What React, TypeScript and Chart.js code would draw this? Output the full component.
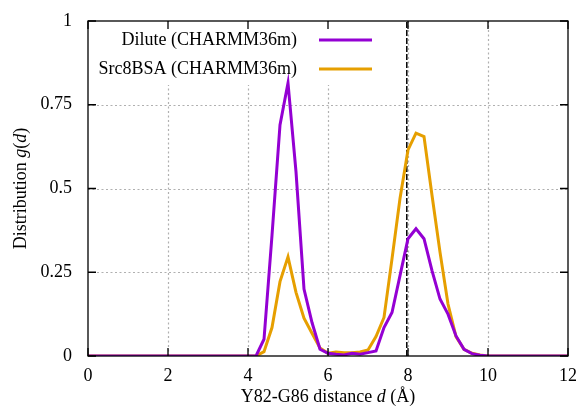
import React, { useEffect, useRef } from "react";
import { Chart, registerables } from "chart.js";

Chart.register(...registerables);

// distance d (Å)
const distances = [0, 4.2, 4.4, 4.6, 4.8, 5.0, 5.2, 5.4, 5.6, 5.8, 6.0, 6.2, 6.4, 6.6, 6.8, 7.0, 7.2, 7.4, 7.6, 7.8, 8.0, 8.2, 8.4, 8.6, 8.8, 9.0, 9.2, 9.4, 9.6, 9.8, 10.0, 12];
const dilute = [0, 0, 0.05, 0.36, 0.69, 0.815, 0.55, 0.2, 0.1, 0.02, 0.008, 0.005, 0.003, 0.008, 0.005, 0.01, 0.015, 0.085, 0.13, 0.24, 0.35, 0.38, 0.35, 0.255, 0.17, 0.125, 0.06, 0.02, 0.007, 0.002, 0, 0];
const src8bsa = [0, 0, 0.013, 0.085, 0.222, 0.296, 0.19, 0.113, 0.068, 0.024, 0.008, 0.012, 0.01, 0.01, 0.012, 0.018, 0.058, 0.115, 0.29, 0.47, 0.615, 0.665, 0.655, 0.48, 0.31, 0.155, 0.058, 0.02, 0.008, 0.003, 0, 0];

const seriesLabels = ["Dilute (CHARMM36m)", "Src8BSA (CHARMM36m)"];
const seriesColors = ["#9400D3", "#E69F00"];
const xTicks = [0, 2, 4, 6, 8, 10, 12];
const yTicks = [0, 0.25, 0.5, 0.75, 1];
const referenceLine = 7.97;

const FONT = "'Liberation Serif', 'Times New Roman', serif";

const decorPlugin = {
  id: "decor",
  beforeDatasetsDraw(chart: any) {
    const { ctx, chartArea: a, scales } = chart;
    const xs = scales.x, ys = scales.y;
    ctx.save();
    ctx.strokeStyle = "#b0b0b0";
    ctx.lineWidth = 1.2;
    ctx.setLineDash([2, 2.5]);
    for (const t of xTicks) {
      if (t === xTicks[0] || t === xTicks[xTicks.length - 1]) continue;
      const px = Math.round(xs.getPixelForValue(t)) + 0.5;
      ctx.beginPath();
      ctx.moveTo(px, a.bottom);
      ctx.lineTo(px, a.top);
      ctx.stroke();
    }
    for (const t of yTicks) {
      if (t === yTicks[0] || t === yTicks[yTicks.length - 1]) continue;
      const py = Math.round(ys.getPixelForValue(t)) + 0.5;
      ctx.beginPath();
      ctx.moveTo(a.left, py);
      ctx.lineTo(a.right, py);
      ctx.stroke();
    }
    // legend box area (opaque)
    ctx.setLineDash([]);
    ctx.fillStyle = "#ffffff";
    ctx.fillRect(a.left + 1, a.top + 1, 294, 63);
    // reference dashed line
    ctx.strokeStyle = "#000000";
    ctx.lineWidth = 1.5;
    ctx.setLineDash([6, 2]);
    const rx = xs.getPixelForValue(referenceLine);
    ctx.beginPath();
    ctx.moveTo(rx, a.bottom);
    ctx.lineTo(rx, a.top);
    ctx.stroke();
    ctx.restore();
  },
  afterDraw(chart: any) {
    const { ctx, chartArea: a, scales } = chart;
    const xs = scales.x, ys = scales.y;
    ctx.save();
    ctx.setLineDash([]);
    ctx.strokeStyle = "#000000";
    ctx.lineWidth = 1.3;
    ctx.strokeRect(a.left, a.top, a.right - a.left, a.bottom - a.top);
    const tl = 8;
    ctx.beginPath();
    for (const t of xTicks) {
      const px = xs.getPixelForValue(t);
      ctx.moveTo(px, a.bottom);
      ctx.lineTo(px, a.bottom - tl);
      ctx.moveTo(px, a.top);
      ctx.lineTo(px, a.top + tl);
    }
    for (const t of yTicks) {
      const py = ys.getPixelForValue(t);
      ctx.moveTo(a.left, py);
      ctx.lineTo(a.left + tl, py);
      ctx.moveTo(a.right, py);
      ctx.lineTo(a.right - tl, py);
    }
    ctx.stroke();

    // legend
    ctx.font = `18px ${FONT}`;
    ctx.textAlign = "right";
    ctx.textBaseline = "middle";
    const rowsY = [a.top + 19, a.top + 48];
    seriesLabels.forEach((lab, i) => {
      ctx.fillStyle = "#000000";
      ctx.fillText(lab, a.left + 209, rowsY[i]);
      ctx.strokeStyle = seriesColors[i];
      ctx.lineWidth = 3;
      ctx.beginPath();
      ctx.moveTo(a.left + 231, rowsY[i]);
      ctx.lineTo(a.left + 284, rowsY[i]);
      ctx.stroke();
    });

    const drawMixed = (list: [string, boolean][], cx: number, cy: number, rotate: boolean) => {
      ctx.save();
      ctx.translate(cx, cy);
      if (rotate) ctx.rotate(-Math.PI / 2);
      let total = 0;
      const widths = list.map(([s, it]) => {
        ctx.font = `${it ? "italic " : ""}18px ${FONT}`;
        const w = ctx.measureText(s).width;
        total += w;
        return w;
      });
      let x = -total / 2;
      ctx.textAlign = "left";
      ctx.textBaseline = "middle";
      ctx.fillStyle = "#000000";
      list.forEach(([s, it], i) => {
        ctx.font = `${it ? "italic " : ""}18px ${FONT}`;
        ctx.fillText(s, x, 0);
        x += widths[i];
      });
      ctx.restore();
    };
    drawMixed([["Y82-G86 distance ", false], ["d", true], [" (Å)", false]], (a.left + a.right) / 2, 397, false);
    drawMixed([["Distribution ", false], ["g", true], ["(", false], ["d", true], [")", false]], 21, (a.top + a.bottom) / 2, true);
    ctx.restore();
  },
};

export default function App() {
  const ref = useRef<HTMLCanvasElement | null>(null);
  useEffect(() => {
    if (!ref.current) return;
    const chart = new Chart(ref.current, {
      type: "line",
      data: {
        datasets: [
          {
            label: seriesLabels[0],
            data: distances.map((d, i) => ({ x: d, y: dilute[i] })),
            borderColor: seriesColors[0],
            borderWidth: 3,
            pointRadius: 0,
            tension: 0,
            fill: false,
          },
          {
            label: seriesLabels[1],
            data: distances.map((d, i) => ({ x: d, y: src8bsa[i] })),
            borderColor: seriesColors[1],
            borderWidth: 3,
            pointRadius: 0,
            tension: 0,
            fill: false,
          },
        ],
      },
      options: {
        animation: false,
        responsive: false,
        devicePixelRatio: 1,
        layout: { padding: { left: 0, top: 21, right: 13, bottom: 0 } },
        plugins: { legend: { display: false }, tooltip: { enabled: false } },
        scales: {
          x: {
            type: "linear",
            min: 0,
            max: 12,
            afterBuildTicks: (s: any) => {
              s.ticks = xTicks.map((v) => ({ value: v }));
            },
            afterFit: (s: any) => {
              s.height = 54;
              s.paddingLeft = 0;
              s.paddingRight = 0;
              s.paddingTop = 0;
              s.paddingBottom = 0;
            },
            grid: { display: false, drawTicks: false },
            border: { display: false },
            ticks: {
              color: "#000",
              font: { family: FONT, size: 18 },
              padding: 9,
              maxRotation: 0,
              callback: (v: any) => String(v),
            },
          },
          y: {
            type: "linear",
            min: 0,
            max: 1,
            afterBuildTicks: (s: any) => {
              s.ticks = yTicks.map((v) => ({ value: v }));
            },
            afterFit: (s: any) => {
              s.width = 88;
              s.paddingLeft = 0;
              s.paddingRight = 0;
              s.paddingTop = 0;
              s.paddingBottom = 0;
            },
            grid: { display: false, drawTicks: false },
            border: { display: false },
            ticks: {
              color: "#000",
              font: { family: FONT, size: 18 },
              padding: 16,
              callback: (v: any) => String(v),
            },
          },
        },
      },
      plugins: [decorPlugin],
    } as any);
    return () => chart.destroy();
  }, []);
  return (
    <div style={{ position: "absolute", left: 0, top: 0, width: 581, height: 410, background: "#fff" }}>
      <canvas ref={ref} width={581} height={410} style={{ display: "block" }} />
    </div>
  );
}
